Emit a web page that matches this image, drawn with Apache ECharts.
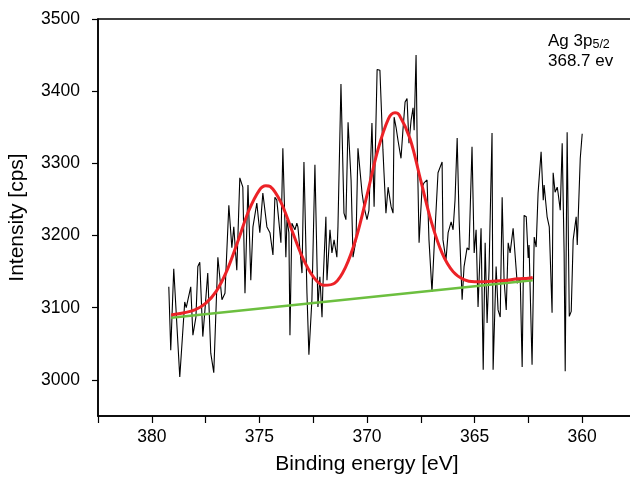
<!DOCTYPE html>
<html>
<head>
<meta charset="utf-8">
<script src="https://cdn.jsdelivr.net/npm/echarts@6/dist/echarts.min.js"></script>
<style>
html,body{margin:0;padding:0;background:#fff;}
#c{width:630px;height:477px;}
</style>
</head>
<body>
<div id="c"></div>
<script>
// Measured XPS spectrum (binding energy eV, intensity cps)
const rawE = [379.21,379.12,378.98,378.70,378.47,378.40,378.19,378.09,377.95,377.86,377.77,377.63,377.53,377.40,377.26,377.12,376.93,376.74,376.60,376.42,376.28,376.19,376.05,375.91,375.77,375.67,375.53,375.40,375.30,375.12,374.98,374.84,374.65,
374.51,374.37,374.28,374.19,374.00,373.91,373.77,373.72,373.63,373.58,373.49,373.35,373.26,373.21,373.02,372.93,372.79,372.70,372.56,372.42,372.28,372.19,372.09,372.05,371.91,371.86,371.72,371.63,371.53,371.40,371.35,371.21,371.07,370.98,370.88,370.74,370.65,370.51,370.42,370.23,370.14,370.00,369.91,369.77,369.67,369.53,
369.40,369.26,369.21,369.12,369.02,368.88,368.79,368.74,368.65,368.56,368.42,368.33,368.23,368.14,368.05,367.95,367.86,367.81,367.72,367.67,367.58,367.44,367.35,367.21,367.12,366.98,366.88,366.70,366.51,366.47,366.33,366.23,366.09,366.00,365.91,365.81,365.72,365.58,365.49,365.35,365.26,365.12,365.02,364.93,364.84,364.70,364.60,364.51,364.42,364.33,
364.19,364.14,364.00,363.91,363.81,363.72,363.63,363.53,363.44,363.35,363.21,363.12,363.02,362.88,362.79,362.70,362.60,362.51,362.47,362.33,362.23,362.14,362.05,361.91,361.81,361.77,361.63,361.53,361.40,361.35,361.26,361.16,361.12,361.02,360.93,360.84,360.79,360.70,360.60,360.51,360.42,360.28,360.23,360.09,360.00];
const rawI = [3129,3041,3154,3004,3108,3100,3129,3062,3087,3157,3163,3060,3097,3148,3037,3010,3170,3111,3120,3242,3183,3212,3152,3280,3267,3120,3270,3138,3212,3245,3204,3259,3212,
3204,3173,3253,3249,3190,3321,3170,3222,3204,3062,3217,3208,3217,3212,3148,3302,3120,3035,3111,3298,3101,3143,3087,3129,3226,3138,3208,3176,3194,3170,3212,3410,3231,3222,3357,3277,3170,3194,3321,3259,3240,3222,3235,3356,3240,3430,
3429,3319,3287,3231,3267,3240,3231,3364,3350,3332,3307,3346,3385,3390,3328,3360,3377,3346,3450,3332,3190,3267,3273,3277,3194,3122,3184,3287,3302,3194,3166,3204,3219,3208,3249,3335,3222,3111,3157,3183,3180,3323,3176,3208,3101,3210,3014,3190,3079,3152,
3342,3014,3157,3097,3087,3253,3138,3097,3190,3176,3210,3210,3134,3140,3018,3228,3226,3169,3187,3021,3198,3184,3259,3316,3249,3270,3226,3212,3093,3287,3260,3267,3259,3235,3328,3176,3012,3343,3088,3095,3194,3226,3187,3307,3341];

// Fitted envelope (red)
const fitE = [379.1,378.5,378.0,377.5,377.0,376.5,376.0,375.5,375.0,374.7,374.5,374.0,373.5,373.0,372.5,372.0,371.5,371.0,370.5,370.0,369.5,369.0,368.7,368.5,368.0,367.5,367.0,366.5,366.0,365.5,365.0,364.5,364.0,363.5,363.0,362.5,362.3];
const fitI = [3090,3093,3097,3106,3123,3152,3192,3234,3263,3269,3268,3246,3208,3170,3143,3131,3134,3156,3197,3256,3318,3362,3370,3367,3334,3276,3218,3175,3150,3139,3136,3136,3137,3138,3140,3141,3142];

// Background (green)
const bgE = [379.1, 362.3];
const bgI = [3086, 3138];

const yTicks = [3000,3100,3200,3300,3400,3500];

const zip = (a,b) => a.map((v,i)=>[v,b[i]]);
const FONT = '"Liberation Sans", Arial, sans-serif';

const chart = echarts.init(document.getElementById('c'), null, {renderer:'canvas'});
chart.setOption({
  animation:false,
  backgroundColor:'#fff',
  grid:{left:98,right:-6,top:19,bottom:61,show:true,borderColor:'#000',borderWidth:1.5,backgroundColor:'transparent',containLabel:false,outerBoundsMode:'none'},
  xAxis:{
    type:'value', inverse:true, min:357.5, max:382.5, interval:2.5,
    name:'Binding energy [eV]', nameLocation:'middle', nameGap:38,
    nameTextStyle:{fontFamily:FONT,fontSize:21,color:'#000'},
    axisLine:{show:true,lineStyle:{color:'#000',width:1.5}},
    axisTick:{show:true,inside:false,length:7,lineStyle:{color:'#000',width:1.2}},
    axisLabel:{show:true,margin:12,fontFamily:FONT,fontSize:17.5,color:'#000',
      showMinLabel:true,showMaxLabel:true,
      formatter:(v)=> (Math.abs(v%5)<1e-6 ? String(v) : '')},
    splitLine:{show:false}
  },
  yAxis:{
    type:'value', min:2950, max:3500,
    name:'Intensity [cps]', nameLocation:'middle', nameGap:70, nameRotate:90,
    nameTextStyle:{fontFamily:FONT,fontSize:21,color:'#000'},
    axisLine:{show:true,lineStyle:{color:'#000',width:1.5}},
    axisTick:{show:true,length:6,customValues:yTicks,lineStyle:{color:'#000',width:1.2}},
    axisLabel:{show:true,margin:18,fontFamily:FONT,fontSize:17.5,color:'#000',customValues:yTicks,
      formatter:(v)=>String(v)},
    splitLine:{show:false}
  },
  graphic:[{
    type:'text', left:548, top:30, z:100,
    style:{
      text:'{a|Ag 3p}{s|5/2}\n{a|368.7 ev}',
      fill:'#000',
      font:'17px '+FONT,
      rich:{
        a:{fontFamily:FONT,fontSize:17,lineHeight:20,fill:'#000'},
        s:{fontFamily:FONT,fontSize:12.5,lineHeight:20,verticalAlign:'bottom',padding:[8,0,0,0],fill:'#000'}
      }
    }
  }],
  series:[
    {type:'line', data:zip(rawE,rawI), showSymbol:false, symbol:'none', z:2,
     lineStyle:{color:'#000',width:1.1}, silent:true},
    {type:'line', data:zip(bgE,bgI), showSymbol:false, symbol:'none', z:3,
     lineStyle:{color:'#6cbf3f',width:2.5}, silent:true},
    {type:'line', data:zip(fitE,fitI), showSymbol:false, symbol:'none', smooth:0.35, z:4,
     lineStyle:{color:'#ec2227',width:3}, silent:true}
  ]
});
</script>
</body>
</html>
